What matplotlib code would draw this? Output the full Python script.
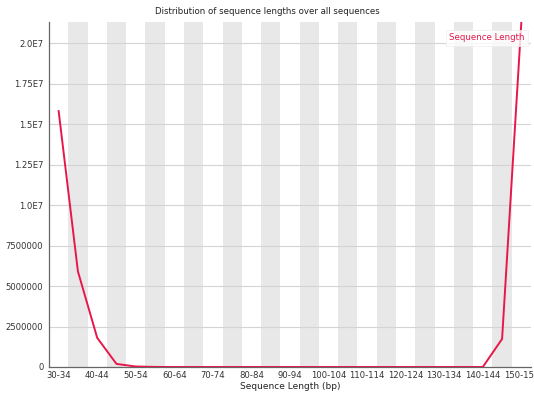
import matplotlib
matplotlib.use("Agg")
import matplotlib.pyplot as plt

# categories (FastQC length bins)
bins = [f"{s}-{s + 4}" for s in range(30, 150, 5)] + ["150-152"]
counts = [1.58e7, 5.9e6, 1.8e6, 1.9e5, 3.0e4, 5.0e3, 0, 0, 0, 0, 0, 0,
          0, 0, 0, 0, 0, 0, 0, 0, 0, 0, 0, 1.73e6, 2.13e7]
ytick_vals = [0, 2.5e6, 5.0e6, 7.5e6, 1.0e7, 1.25e7, 1.5e7, 1.75e7, 2.0e7]
ytick_labels = ["0", "2500000", "5000000", "7500000", "1.0E7", "1.25E7",
                "1.5E7", "1.75E7", "2.0E7"]

fig = plt.figure(figsize=(5.34, 3.94), dpi=100)
ax = fig.add_axes([49 / 534, 1 - 367 / 394, 482 / 534, 345 / 394])

n = len(bins)
xs = list(range(n))
# alternating grey bands
for i in xs:
    if i % 2 == 1:
        ax.axvspan(i - 0.5, i + 0.5, color="#e8e8e8", lw=0, zorder=0)

for v in ytick_vals[1:]:
    ax.axhline(v, color="#d4d4d4", lw=0.8, zorder=1)

ax.plot(xs, counts, color="#e8174a", lw=1.4, zorder=3, label="Sequence Length")

ax.set_xlim(-0.5, n - 0.5)
ax.set_ylim(0, max(counts))
ax.set_xticks(xs[::2])
ax.set_xticklabels(bins[::2], fontsize=6.1, color="#333333")
ax.set_yticks(ytick_vals)
ax.set_yticklabels(ytick_labels, fontsize=6.1, color="#333333")
ax.tick_params(axis="y", length=0, pad=4)
ax.tick_params(axis="x", length=0, pad=3)
for s in ("top", "right"):
    ax.spines[s].set_visible(False)
for s in ("left", "bottom"):
    ax.spines[s].set_color("#666666")
    ax.spines[s].set_linewidth(0.9)

ax.set_xlabel("Sequence Length (bp)", fontsize=6.5, color="#222222", labelpad=1)
fig.text(0.5, 1 - 11 / 394, "Distribution of sequence lengths over all sequences",
         ha="center", va="center", fontsize=6.2, color="#222222")

leg = ax.legend(loc="upper right", fontsize=6.2, handlelength=0, handletextpad=0,
                frameon=True, fancybox=False, borderpad=0.4,
                bbox_to_anchor=(1.003, 0.99))
leg.get_frame().set_edgecolor("#eeeeee")
leg.get_frame().set_linewidth(0.6)
for t in leg.get_texts():
    t.set_color("#e8174a")
for h in leg.legend_handles:
    h.set_visible(False)

fig.savefig("out.png", dpi=100)
